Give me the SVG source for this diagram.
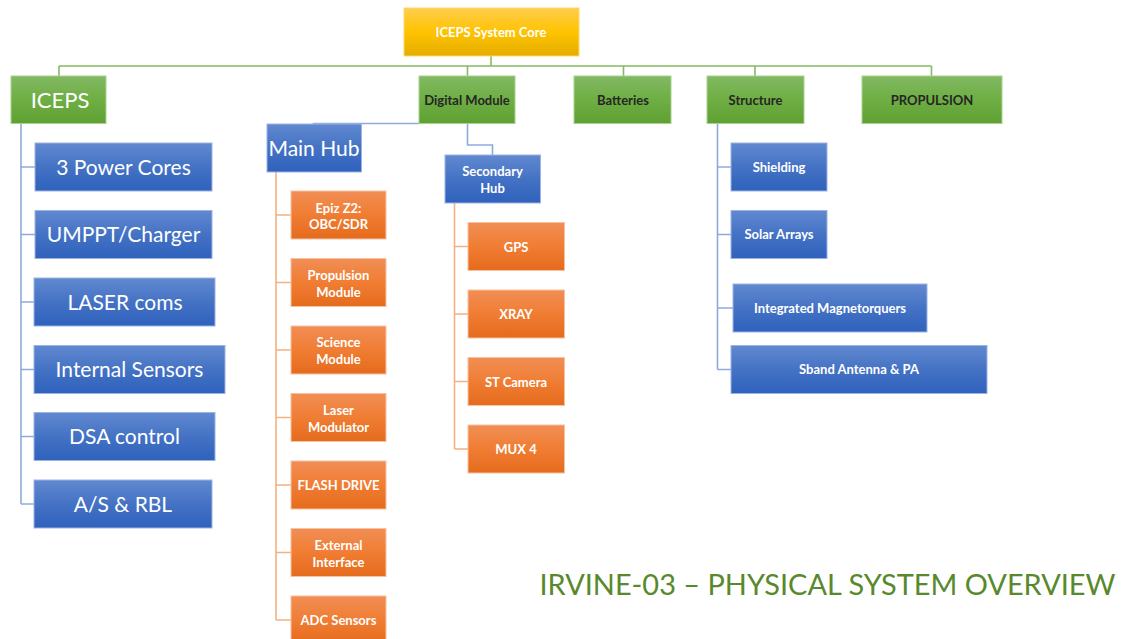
<svg xmlns="http://www.w3.org/2000/svg" width="1126" height="639" viewBox="0 0 1126 639">
  <defs>
    <linearGradient id="gYellow" x1="0" y1="0" x2="0" y2="1">
      <stop offset="0" stop-color="#ffcd4f"/>
      <stop offset="0.5" stop-color="#ffc300"/>
      <stop offset="1" stop-color="#e4ad00"/>
    </linearGradient>
    <linearGradient id="gGreen" x1="0" y1="0" x2="0" y2="1">
      <stop offset="0" stop-color="#82b963"/>
      <stop offset="0.5" stop-color="#6eae43"/>
      <stop offset="1" stop-color="#5fa033"/>
    </linearGradient>
    <linearGradient id="gBlue" x1="0" y1="0" x2="0" y2="1">
      <stop offset="0" stop-color="#6189d0"/>
      <stop offset="0.5" stop-color="#4472c4"/>
      <stop offset="1" stop-color="#2f62bd"/>
    </linearGradient>
    <linearGradient id="gOrange" x1="0" y1="0" x2="0" y2="1">
      <stop offset="0" stop-color="#f18e55"/>
      <stop offset="0.5" stop-color="#f07d33"/>
      <stop offset="1" stop-color="#e56b1d"/>
    </linearGradient>
  </defs>
  <style>
    .yellow { fill: url(#gYellow); stroke: #ffd966; stroke-width: 1; }
    .green { fill: url(#gGreen); stroke: #a9d18e; stroke-width: 1; }
    .blue { fill: url(#gBlue); stroke: #9db3e2; stroke-width: 1; }
    .orange { fill: url(#gOrange); stroke: #f8c2a0; stroke-width: 1; }
    text { font-family: Lato, "Liberation Sans", sans-serif; text-anchor: middle; dominant-baseline: central; }
    .big { font-size: 21px; fill: #ffffff; }
    .small { font-size: 13px; font-weight: bold; fill: #ffffff; }
    .dark { font-size: 13px; font-weight: bold; fill: #262626; }
    .lnGreen { fill: none; stroke: #84bb64; stroke-width: 1.6; }
    .lnBlue { fill: none; stroke: #8eaadc; stroke-width: 1.6; }
    .lnOrange { fill: none; stroke: #f4b183; stroke-width: 1.6; }
    .title { font-size: 28.5px; fill: #58892c; text-anchor: start; dominant-baseline: alphabetic; }
  </style>

  <!-- connectors -->
  <g id="connectors">
    <path class="lnGreen" d="M59,66 H931.5 M59,66 V76 M467.5,66 V76 M491,56 V66 M623.5,66 V76 M755,66 V76 M931.5,66 V76"/>
    <path class="lnBlue" d="M21,123 V504 M21,167 H35 M21,234.5 H35 M21,302 H34 M21,369.5 H34 M21,436.5 H34 M21,504 H34"/>
    <path class="lnBlue" d="M419,123.5 H313.5 V124"/>
    <path class="lnBlue" d="M467.5,123 V145 H492.5 V155"/>
    <path class="lnBlue" d="M717.5,123 V369.5 M717.5,167 H731 M717.5,234.5 H731 M717.5,308 H733 M717.5,369.5 H731"/>
    <path class="lnOrange" d="M276,172 V620 M276,215 H291 M276,282.5 H291 M276,350 H291 M276,417.5 H291 M276,485 H291 M276,552.5 H291 M276,620 H291"/>
    <path class="lnOrange" d="M454.5,203 V449 M454.5,246.5 H468 M454.5,314 H468 M454.5,381.5 H468 M454.5,449 H468"/>
  </g>

  <!-- root -->
  <g id="core">
    <rect class="yellow" x="404" y="8" width="175" height="48"/>
    <text class="small" x="491" y="32">ICEPS System Core</text>
  </g>

  <!-- top-level subsystems -->
  <g id="iceps">
    <rect class="green" x="11" y="76" width="95" height="47.5"/>
    <text class="big" x="60" y="99" style="font-size:22px">ICEPS</text>
  </g>
  <g id="digital-module">
    <rect class="green" x="419" y="76" width="96" height="47.5"/>
    <text class="dark" x="467" y="99.5">Digital Module</text>
  </g>
  <g id="batteries">
    <rect class="green" x="574" y="76" width="97" height="47.5"/>
    <text class="dark" x="623" y="99.5">Batteries</text>
  </g>
  <g id="structure">
    <rect class="green" x="707" y="76" width="97" height="47.5"/>
    <text class="dark" x="755.5" y="99.5">Structure</text>
  </g>
  <g id="propulsion">
    <rect class="green" x="862" y="76" width="140" height="47.5"/>
    <text class="dark" x="932" y="99.5">PROPULSION</text>
  </g>

  <!-- ICEPS children -->
  <g id="power-cores">
    <rect class="blue" x="35" y="143" width="177" height="48"/>
    <text class="big" x="123.5" y="166">3 Power Cores</text>
  </g>
  <g id="umppt">
    <rect class="blue" x="35" y="210.5" width="177" height="48"/>
    <text class="big" x="123.5" y="233.5">UMPPT/Charger</text>
  </g>
  <g id="laser-coms">
    <rect class="blue" x="34" y="278" width="181" height="48"/>
    <text class="big" x="125" y="301">LASER coms</text>
  </g>
  <g id="internal-sensors">
    <rect class="blue" x="34" y="345.5" width="191" height="48"/>
    <text class="big" x="129.5" y="368.5">Internal Sensors</text>
  </g>
  <g id="dsa-control">
    <rect class="blue" x="34" y="412.5" width="181" height="48"/>
    <text class="big" x="124.5" y="435.5">DSA control</text>
  </g>
  <g id="as-rbl">
    <rect class="blue" x="34" y="480" width="178" height="48"/>
    <text class="big" x="123" y="503">A/S &amp; RBL</text>
  </g>

  <!-- Digital Module children -->
  <g id="main-hub">
    <rect class="blue" x="267" y="124" width="94.5" height="48"/>
    <text class="big" x="314" y="147">Main Hub</text>
  </g>
  <g id="secondary-hub">
    <rect class="blue" x="445" y="155" width="95.5" height="48"/>
    <text class="small" x="492.5" y="171">Secondary</text>
    <text class="small" x="492.5" y="188">Hub</text>
  </g>

  <!-- Main Hub children -->
  <g id="epiz">
    <rect class="orange" x="291" y="191" width="95" height="48"/>
    <text class="small" x="338.5" y="207.5">Epiz Z2:</text>
    <text class="small" x="338.5" y="224">OBC/SDR</text>
  </g>
  <g id="propulsion-module">
    <rect class="orange" x="291" y="258.5" width="95" height="48"/>
    <text class="small" x="338.5" y="274.5">Propulsion</text>
    <text class="small" x="338.5" y="291.5">Module</text>
  </g>
  <g id="science-module">
    <rect class="orange" x="291" y="326" width="95" height="48"/>
    <text class="small" x="338.5" y="342">Science</text>
    <text class="small" x="338.5" y="359">Module</text>
  </g>
  <g id="laser-modulator">
    <rect class="orange" x="291" y="393.5" width="95" height="48"/>
    <text class="small" x="338.5" y="409.5">Laser</text>
    <text class="small" x="338.5" y="426.5">Modulator</text>
  </g>
  <g id="flash-drive">
    <rect class="orange" x="291" y="461" width="95" height="48"/>
    <text class="small" x="338.5" y="485">FLASH DRIVE</text>
  </g>
  <g id="external-interface">
    <rect class="orange" x="291" y="528.5" width="95" height="48"/>
    <text class="small" x="338.5" y="544.5">External</text>
    <text class="small" x="338.5" y="561.5">Interface</text>
  </g>
  <g id="adc-sensors">
    <rect class="orange" x="291" y="596" width="95" height="48"/>
    <text class="small" x="338.5" y="619.5">ADC Sensors</text>
  </g>

  <!-- Secondary Hub children -->
  <g id="gps">
    <rect class="orange" x="468" y="222.5" width="96.5" height="48"/>
    <text class="small" x="516" y="246.5">GPS</text>
  </g>
  <g id="xray">
    <rect class="orange" x="468" y="290" width="96.5" height="48"/>
    <text class="small" x="516" y="314">XRAY</text>
  </g>
  <g id="st-camera">
    <rect class="orange" x="468" y="357.5" width="96.5" height="48"/>
    <text class="small" x="516" y="381.5">ST Camera</text>
  </g>
  <g id="mux4">
    <rect class="orange" x="468" y="425" width="96.5" height="48"/>
    <text class="small" x="516" y="449">MUX 4</text>
  </g>

  <!-- Structure children -->
  <g id="shielding">
    <rect class="blue" x="731" y="143" width="96" height="48"/>
    <text class="small" x="779" y="166.5">Shielding</text>
  </g>
  <g id="solar-arrays">
    <rect class="blue" x="731" y="210.5" width="96" height="48"/>
    <text class="small" x="779" y="234">Solar Arrays</text>
  </g>
  <g id="magnetorquers">
    <rect class="blue" x="733" y="284" width="194" height="48"/>
    <text class="small" x="830" y="307.5">Integrated Magnetorquers</text>
  </g>
  <g id="sband">
    <rect class="blue" x="731" y="345.5" width="256" height="48"/>
    <text class="small" x="859" y="369">Sband Antenna &amp; PA</text>
  </g>

  <!-- caption -->
  <text class="title" x="539.5" y="595" textLength="576" lengthAdjust="spacingAndGlyphs">IRVINE-03 – PHYSICAL SYSTEM OVERVIEW</text>
</svg>
